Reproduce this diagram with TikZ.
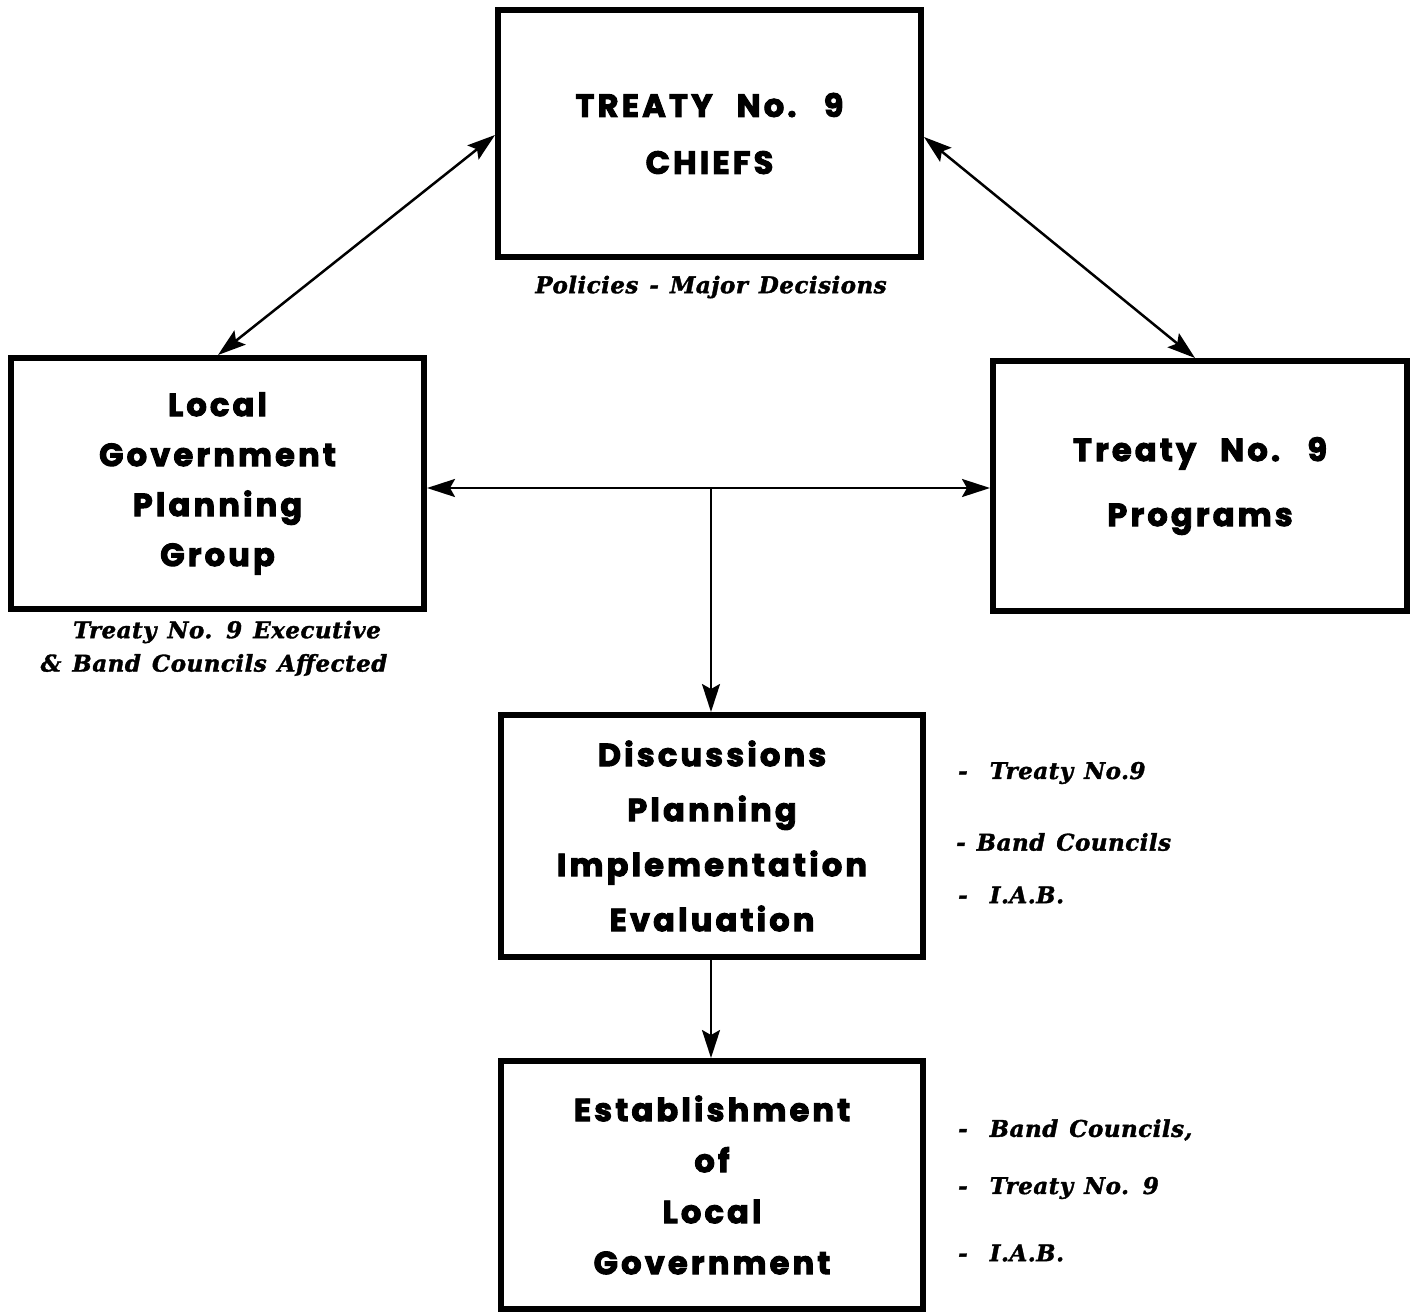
\documentclass[tikz,border=0pt]{standalone}
\usepackage{fontspec}
\usetikzlibrary{arrows.meta}
\newfontfamily\heavyfont[LetterSpace=10, WordSpace=2.4, BoldFeatures={FakeBold=3}]{Poppins}
\newfontfamily\capfont[LetterSpace=2, WordSpace=1.3, BoldItalicFeatures={FakeBold=1.5}]{DejaVu Serif}
\tikzset{
  box/.style={draw, line width=6pt, rectangle, inner sep=0pt, align=center},
  boxtext/.style={font=\heavyfont\bfseries\fontsize{32}{#1}\selectfont},
  note/.style={font=\capfont\bfseries\itshape\fontsize{23}{33}\selectfont, inner sep=0pt},
  conn/.style={line width=2.5pt, -{Stealth[length=28pt,width=18pt,inset=5pt]}},
  conn2/.style={line width=2.5pt, {Stealth[length=28pt,width=18pt,inset=5pt]}-{Stealth[length=28pt,width=18pt,inset=5pt]}},
}
\begin{document}
\begin{tikzpicture}[x=1pt,y=-1pt]
\useasboundingbox (0,0) rectangle (1415,1314);
\node[box, boxtext=57, minimum width=423pt, minimum height=247pt] (chiefs) at (709.5,133.5) {TREATY No. 9\\CHIEFS};
\node[box, boxtext=50, minimum width=413pt, minimum height=251pt] (lgpg) at (217.5,483.5) {Local\\Government\\Planning\\Group};
\node[box, boxtext=65, minimum width=414pt, minimum height=250pt] (prog) at (1200,486) {Treaty No. 9\\Programs};
\node[box, boxtext=55, minimum width=422pt, minimum height=242pt] (disc) at (712,836) {Discussions\\Planning\\Implementation\\Evaluation};
\node[box, boxtext=51, minimum width=422pt, minimum height=248pt] (estab) at (712,1185) {Establishment\\of\\Local\\Government};

\node[note] (pol) at (711,287) {Policies - Major Decisions};
\node[note] (exec) at (227,632) {Treaty No. 9 Executive};
\node[note] (band) at (214,665) {\& Band Councils Affected};

\node[note, anchor=west] (d1) at (958,773) {-\ \ Treaty No.9};
\node[note, anchor=west] (d2) at (956,842) {-\ Band Councils};
\node[note, anchor=west] (d3) at (958,895) {-\ \ I.A.B.};
\node[note, anchor=west] (e1) at (958,1130) {-\ \ Band Councils,};
\node[note, anchor=west] (e2) at (958,1188) {-\ \ Treaty No. 9};
\node[note, anchor=west] (e3) at (958,1253) {-\ \ I.A.B.};

\coordinate (jn) at (711,488);
\draw[conn2] (chiefs.west |- 0,135) -- (lgpg.north -| 218,0);
\draw[conn2] (chiefs.east |- 0,137) -- (prog.north -| 1195,0);
\draw[conn2] (lgpg.east |- jn) -- (prog.west |- jn);
\draw[conn] (jn) -- (disc.north -| jn);
\draw[conn] (disc.south -| jn) -- (estab.north -| jn);
\end{tikzpicture}
\end{document}
